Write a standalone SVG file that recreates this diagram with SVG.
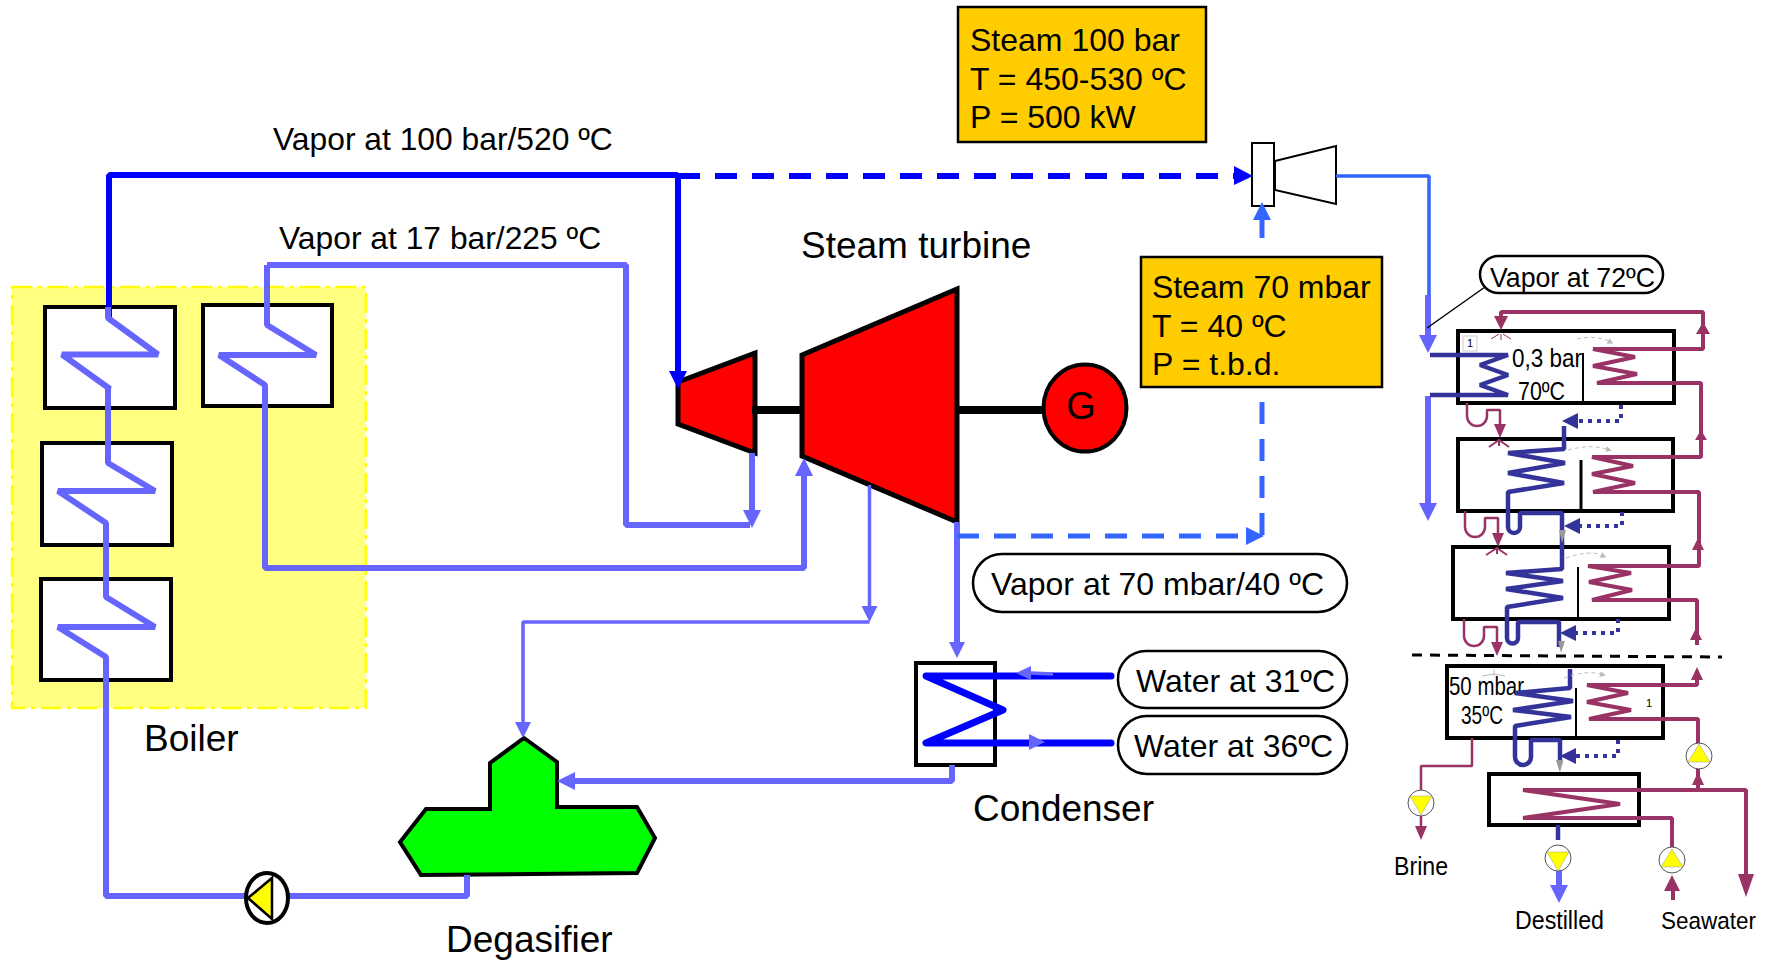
<svg xmlns="http://www.w3.org/2000/svg" width="1766" height="961" viewBox="0 0 1766 961">
<style>
text{font-family:"Liberation Sans",Arial,sans-serif;fill:#000}
.t32{font-size:32px}.t37{font-size:37px}.v{font-size:31.800px}
.n{font-size:25px}
.box{fill:#fff;stroke:#000;stroke-width:4}
.eff{fill:#fff;stroke:#000;stroke-width:4}
.org{fill:#ffcc00;stroke:#000;stroke-width:2.5}
.pill{fill:#fff;stroke:#000;stroke-width:2.5}
.red{fill:#ff0000;stroke:#000;stroke-width:5;stroke-linejoin:miter}
#connectors path{fill:none;stroke-linejoin:bevel}
.b{stroke:#0000ff;stroke-width:6}
.l{stroke:#6666ff;stroke-width:6}
.l3{stroke:#6666ff;stroke-width:3.500}
.m{stroke:#3366ff;stroke-width:5}
.mt{stroke:#3366ff;stroke-width:3.500}
.dash{stroke-dasharray:22 15}
.navy{stroke:#333399;stroke-width:4.500}
.dot{stroke:#333399;stroke-width:4;stroke-dasharray:4 5}
.mar{stroke:#993366;stroke-width:4}
.mar2{stroke:#993366;stroke-width:2.500}
#connectors .coilw{stroke:#0000ff;stroke-width:7;stroke-linecap:round;stroke-linejoin:round}
.grey{stroke:#bbb;stroke-width:1;stroke-dasharray:4 3}
.pump{fill:#fff;stroke:#555;stroke-width:1}
.yel{fill:#ffff00;stroke:#999;stroke-width:.5}
</style>
<defs>
<marker id="aB" markerUnits="userSpaceOnUse" markerWidth="18" markerHeight="18" refX="0" refY="9" orient="auto"><path d="M0 0L18 9L0 18Z" fill="#0000ff"/></marker>
<marker id="aL" markerUnits="userSpaceOnUse" markerWidth="18" markerHeight="18" refX="0" refY="9" orient="auto"><path d="M0 0L18 9L0 18Z" fill="#6666ff"/></marker>
<marker id="aM" markerUnits="userSpaceOnUse" markerWidth="18" markerHeight="18" refX="0" refY="9" orient="auto"><path d="M0 0L18 9L0 18Z" fill="#3366ff"/></marker>
<marker id="aS" markerUnits="userSpaceOnUse" markerWidth="16" markerHeight="16" refX="0" refY="8" orient="auto"><path d="M0 0L16 8L0 16Z" fill="#6666ff"/></marker>
<marker id="aN" markerUnits="userSpaceOnUse" markerWidth="16" markerHeight="16" refX="0" refY="8" orient="auto"><path d="M0 0L16 8L0 16Z" fill="#333399"/></marker>
<marker id="aR" markerUnits="userSpaceOnUse" markerWidth="14" markerHeight="12" refX="0" refY="6" orient="auto"><path d="M0 0L14 6L0 12Z" fill="#993366"/></marker>
<marker id="aG" markerUnits="userSpaceOnUse" markerWidth="6" markerHeight="6" refX="0" refY="3" orient="auto"><path d="M0 0L6 3L0 6Z" fill="#bbb"/></marker>
</defs>
<rect width="1766" height="961" fill="#fff"/>

<g id="boiler">
<rect x="12" y="287" width="354" height="421" fill="#ffff80" stroke="#ffff00" stroke-width="2.5" stroke-dasharray="20 6 4 6"/>
<text class="t37" x="144" y="751">Boiler</text>
<rect class="box" x="45" y="307" width="130" height="101"/>
<rect class="box" x="203" y="305" width="129" height="101"/>
<rect class="box" x="42" y="443" width="130" height="102"/>
<rect class="box" x="41" y="579" width="130" height="101"/>
</g>

<g id="hp-turbine"><polygon class="red" points="678,382 755,353 755,453 678,424"/></g>
<g id="lp-turbine">
<polygon class="red" points="802,355 957,289 957,522 802,456"/>
<text class="t37" x="801" y="258">Steam turbine</text>
</g>
<g id="shaft"><line x1="752" y1="410" x2="802" y2="410" stroke="#000" stroke-width="8"/><line x1="957" y1="410" x2="1045" y2="410" stroke="#000" stroke-width="8"/></g>
<g id="generator"><ellipse cx="1085" cy="408" rx="41.500" ry="43.500" fill="#ff0000" stroke="#000" stroke-width="4"/><text x="1081" y="419" text-anchor="middle" style="font-size:38px">G</text></g>

<g id="ejector">
<rect x="1252" y="143" width="22" height="63" fill="#fff" stroke="#000" stroke-width="2"/>
<polygon points="1275,161 1336,146 1336,204 1275,190" fill="#fff" stroke="#000" stroke-width="2"/>
</g>

<g id="degasifier">
<polygon points="524,738 557,762 557,807 637,807 655,838 637,873 421,875 400,842 426,809 490,809 490,763" fill="#00ff00" stroke="#000" stroke-width="4"/>
<text class="t37" x="446" y="952">Degasifier</text>
</g>

<g id="condenser">
<rect class="box" x="916" y="663" width="79" height="102"/>
<text class="t37" x="973" y="821">Condenser</text>
</g>

<g id="effect-1">
<rect class="eff" x="1458" y="331" width="216" height="72"/>
<line x1="1583" y1="353" x2="1583" y2="403" stroke="#000" stroke-width="2"/>
<rect x="1463" y="336" width="14" height="15" fill="#fff" stroke="#ccc"/><text x="1470" y="347" text-anchor="middle" style="font-size:11px">1</text>
<text class="n" x="1512" y="367" textLength="70" lengthAdjust="spacingAndGlyphs">0,3 bar</text>
<text class="n" x="1518" y="400" textLength="47" lengthAdjust="spacingAndGlyphs">70ºC</text>
</g>
<g id="effect-2">
<rect class="eff" x="1458" y="439" width="215" height="72"/>
<line x1="1581" y1="460" x2="1581" y2="511" stroke="#000" stroke-width="3"/>
</g>
<g id="effect-3">
<rect class="eff" x="1453" y="547" width="216" height="72"/>
<line x1="1578" y1="567" x2="1578" y2="619" stroke="#000" stroke-width="2"/>
</g>
<g id="effect-4">
<rect class="eff" x="1447" y="666" width="216" height="72"/>
<line x1="1576" y1="688" x2="1576" y2="738" stroke="#000" stroke-width="2"/>
<text class="n" x="1449" y="695" textLength="75" lengthAdjust="spacingAndGlyphs">50 mbar</text>
<text class="n" x="1461" y="724" textLength="42" lengthAdjust="spacingAndGlyphs">35ºC</text>
<text x="1649" y="707" text-anchor="middle" style="font-size:11px">1</text>
</g>
<g id="preheater"><rect class="eff" x="1489" y="774" width="150" height="51"/></g>

<g id="connectors">
<path class="b" d="M109 318V175H678"/>
<path class="b" d="M678 175V371" marker-end="url(#aB)"/>
<path class="b dash" d="M678 176H1235"/>
<polygon points="1234,166 1253,176 1234,185" fill="#0000ff"/>

<path class="l" d="M108 307V318L158 354.500H62L110 389H108V463L155 491H58L106 523V597L155 627H58L106 657V896H248"/>
<path class="l" d="M267 265V325L316 355H219L265 385V568H804V476" marker-end="url(#aL)"/>
<path class="l" d="M267 265H626V525H750"/>
<path class="l" d="M752 453V510" marker-end="url(#aL)"/>
<path class="l3" d="M869.500 485V606" marker-end="url(#aS)"/>
<path class="l3" d="M869.500 622H523V722" marker-end="url(#aS)"/>
<path class="l" d="M957 522V642" marker-end="url(#aS)"/>
<path class="m dash" d="M957 536H1246" marker-end="url(#aM)"/>
<path class="m dash" d="M1262 535V388"/>
<path class="m" d="M1262 238V220" marker-end="url(#aM)"/>
<path class="mt" d="M1336 176H1429V295"/>
<path class="l" d="M1428 295V335" marker-end="url(#aL)"/>
<path class="l" d="M1428 396V503" marker-end="url(#aL)"/>
<path class="coilw" d="M1111 676H926L1003 710L926 743H1111"/>
<path class="l3" d="M1053 674L1030 673"/>
<polygon points="1016,673 1031,666 1031,680" fill="#6666ff"/>
<polygon points="1029,734 1045,742 1029,750" fill="#6666ff"/>
<path class="l" d="M952 765V781H575" marker-end="url(#aL)"/>
<path class="l" d="M467 875V896H272"/>

<path class="navy" d="M1430 355H1508L1480 365L1508 375L1480 385L1508 395H1430"/>
<path class="navy" d="M1564 426V449L1508 453L1565 463L1508 473L1564 483L1508 492V527A6 6 0 0 0 1520 527V513H1562V547"/>
<path class="navy" d="M1562 547V569L1506 573L1563 581L1506 589L1563 598L1507 607V638A5.500 5.500 0 0 0 1518 638V622H1559V647"/>
<path class="navy" d="M1570 669V688L1515 693L1573 701L1513 710L1571 717L1515 726V757A8 8 0 0 0 1531 757V740H1560V765"/>
<path class="dot" d="M1621 405V421H1578" marker-end="url(#aN)"/>
<path class="dot" d="M1622 512V526H1580" marker-end="url(#aN)"/>
<path class="dot" d="M1618 619V633H1576" marker-end="url(#aN)"/>
<path class="dot" d="M1618 740V756H1576" marker-end="url(#aN)"/>
<path class="navy" d="M1558 825V840"/>
<path class="l" d="M1559 870V885" marker-end="url(#aL)"/>

<path class="mar" d="M1501 320V312H1703V349H1593L1635 357L1593 366L1637 374L1597 383H1701V457H1592L1633 466L1592 474L1635 483L1593 492H1699V566H1588L1631 573L1589 582L1632 590L1592 600H1697V645"/>
<path class="mar" d="M1697 680V685H1587L1628 693L1587 702L1631 710L1589 719H1698V790"/>
<path class="mar" d="M1746 875V790H1698"/>
<path class="mar" d="M1698 790H1523L1620 804L1523 818H1672V850"/>
<polygon points="1738,874 1754,874 1746,897" fill="#993366"/>
<polygon points="1703,322 1696,334 1710,334" fill="#993366"/>
<polygon points="1701,430 1695,440 1707,440" fill="#993366"/>
<polygon points="1698,538 1692,550 1704,550" fill="#993366"/>
<polygon points="1696,628 1690,640 1702,640" fill="#993366"/>
<polygon points="1697,667 1691,680 1703,680" fill="#993366"/>
<polygon points="1698,772 1692,785 1704,785" fill="#993366"/>
<polygon points="1672,875 1664,891 1680,891" fill="#993366"/>
<path class="mar" d="M1673 900V890"/>
<path class="mar2" d="M1467 403V416A10 10 0 0 0 1487 416V410H1500V424" marker-end="url(#aR)"/>
<path class="mar2" d="M1465 511V527A10 10 0 0 0 1485 527V518H1498V533" marker-end="url(#aR)"/>
<path class="mar2" d="M1464 619V636A10 10 0 0 0 1484 636V627H1497V642" marker-end="url(#aR)"/>
<path class="mar2" d="M1472 738V766H1421V826" marker-end="url(#aR)"/>
<polygon points="1501,330 1494,316 1508,316" fill="#993366"/>
<g stroke="#993366" stroke-width="1">
<path d="M1501 334V340M1491 339L1499 334M1511 339L1503 334"/>
<path stroke-width="2" d="M1499 439V446M1489 447L1499 440L1509 447"/>
<path stroke-width="2" d="M1497 547V554M1486 555L1497 548L1507 555"/>
</g>
<path d="M1494 674L1482 676M1494 669V676M1494 674L1505 676" stroke="#bbb" stroke-width="1"/>
<path class="grey" d="M1577 339Q1595 335 1608 341" marker-end="url(#aG)"/>
<path class="grey" d="M1568 450Q1590 444 1606 449" marker-end="url(#aG)"/>
<path class="grey" d="M1566 558Q1590 550 1601 555" marker-end="url(#aG)"/>
<path class="grey" d="M1564 678Q1585 670 1600 674" marker-end="url(#aG)"/>
<polygon points="1558,641 1565,641 1561,653" fill="#999"/>
<polygon points="1559,530 1566,530 1562,543" fill="#999"/>
<polygon points="1556,760 1563,760 1560,773" fill="#999"/>
<line x1="1485" y1="287" x2="1427" y2="328" stroke="#000" stroke-width="1.500"/>
<line x1="1412" y1="655" x2="1722" y2="657" stroke="#000" stroke-width="3" stroke-dasharray="10 8"/>
</g>

<g id="feed-pump">
<ellipse cx="267" cy="898" rx="21" ry="25" fill="#fff" stroke="#000" stroke-width="4"/>
<polygon points="248,898 272,878 272,919" fill="#ffff00" stroke="#000" stroke-width="2.500"/>
</g>
<g id="pump-brine"><circle class="pump" cx="1421" cy="803" r="13"/><polygon class="yel" points="1410,796 1432,796 1421,815"/></g>
<g id="pump-distillate"><circle class="pump" cx="1558" cy="858" r="13"/><polygon class="yel" points="1547,852 1569,852 1558,871"/></g>
<g id="pump-seawater"><circle class="pump" cx="1672" cy="860" r="13"/><polygon class="yel" points="1661,867 1683,867 1672,849"/></g>
<g id="pump-recycle"><circle class="pump" cx="1699" cy="756" r="13"/><polygon class="yel" points="1688,762 1710,762 1699,744"/></g>

<g id="label-steam-100"><rect class="org" x="958" y="7" width="248" height="135"/>
<text class="t32" x="970" y="51">Steam 100 bar</text><text class="t32" x="970" y="90">T = 450-530 ºC</text><text class="t32" x="970" y="128">P = 500 kW</text></g>
<g id="label-steam-70"><rect class="org" x="1141" y="257" width="241" height="130"/>
<text class="t32" x="1152" y="298">Steam 70 mbar</text><text class="t32" x="1152" y="337">T = 40 ºC</text><text class="t32" x="1152" y="375">P = t.b.d.</text></g>
<g id="label-vapor-100"><text class="v" x="273" y="150">Vapor at 100 bar/520 ºC</text></g>
<g id="label-vapor-17"><text class="v" x="279" y="249">Vapor at 17 bar/225 ºC</text></g>
<g id="label-vapor-70"><rect class="pill" x="973" y="554" width="374" height="58" rx="29"/><text class="t32" x="991" y="595">Vapor at 70 mbar/40 ºC</text></g>
<g id="label-water-31"><rect class="pill" x="1118" y="651" width="229" height="57" rx="28"/><text class="t32" x="1136" y="692">Water at 31ºC</text></g>
<g id="label-water-36"><rect class="pill" x="1118" y="716" width="229" height="58" rx="29"/><text class="t32" x="1134" y="757">Water at 36ºC</text></g>
<g id="label-vapor-72"><rect class="pill" x="1480" y="256" width="183" height="37" rx="18.500"/><text x="1490" y="287" style="font-size:28px" textLength="165" lengthAdjust="spacingAndGlyphs">Vapor at 72ºC</text></g>
<g id="label-brine"><text class="n" x="1394" y="875" textLength="54" lengthAdjust="spacingAndGlyphs">Brine</text></g>
<g id="label-destilled"><text class="n" x="1515" y="929" textLength="89" lengthAdjust="spacingAndGlyphs">Destilled</text></g>
<g id="label-seawater"><text class="n" x="1661" y="929" style="font-size:24.500px" textLength="95" lengthAdjust="spacingAndGlyphs">Seawater</text></g>
</svg>
